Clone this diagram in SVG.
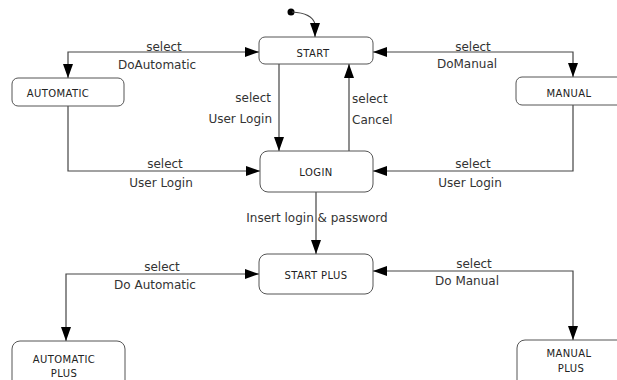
<svg xmlns="http://www.w3.org/2000/svg" width="617" height="380" viewBox="0 0 617 380">
<defs>
<marker id="ah" viewBox="0 0 14 10" refX="14" refY="5" markerWidth="14" markerHeight="10" markerUnits="userSpaceOnUse" orient="auto-start-reverse">
<path d="M0,0 L14,5 L0,10 Z" fill="#000"/>
</marker>
</defs>
<style>
.box{fill:#fff;stroke:#555;stroke-width:1}
.nt{font-family:"DejaVu Sans",sans-serif;font-size:10px;letter-spacing:0.4px;fill:#222;text-anchor:middle}
.lb{font-family:"DejaVu Sans",sans-serif;font-size:12px;fill:#333}
.ce{fill:none;stroke:#444;stroke-width:1.2;marker-end:url(#ah)}
.cb{fill:none;stroke:#444;stroke-width:1.2;marker-end:url(#ah);marker-start:url(#ah)}
</style>
<rect width="617" height="380" fill="#fff"/>
<g id="connectors">
<circle cx="291" cy="12" r="3.5" fill="#000"/>
<path class="ce" d="M292,12 Q312,13 315,24 L315,37"/>
<path class="cb" d="M259,52 L68,52 L68,78"/>
<path class="cb" d="M373,52 L573,52 L573,77"/>
<path class="ce" d="M279,64 L279,151"/>
<path class="ce" d="M349,151 L349,64"/>
<path class="ce" d="M68,106 L68,171 L260,171"/>
<path class="ce" d="M573,105 L573,171 L373,171"/>
<path class="ce" d="M316,192 L316,254"/>
<path class="cb" d="M259,274 L66,274 L66,341"/>
<path class="cb" d="M373,271 L573,271 L573,340"/>
<text class="lb" x="164" y="51" text-anchor="middle">select</text>
<text class="lb" x="157" y="69" text-anchor="middle">DoAutomatic</text>
<text class="lb" x="473" y="51" text-anchor="middle">select</text>
<text class="lb" x="467" y="68" text-anchor="middle">DoManual</text>
<text class="lb" x="271" y="102" text-anchor="end">select</text>
<text class="lb" x="272" y="123" text-anchor="end">User Login</text>
<text class="lb" x="352" y="103">select</text>
<text class="lb" x="352" y="124">Cancel</text>
<text class="lb" x="165" y="168" text-anchor="middle">select</text>
<text class="lb" x="161" y="187" text-anchor="middle">User Login</text>
<text class="lb" x="473" y="168" text-anchor="middle">select</text>
<text class="lb" x="470" y="187" text-anchor="middle">User Login</text>
<text class="lb" x="317" y="222" text-anchor="middle">Insert login &amp; password</text>
<text class="lb" x="162" y="271" text-anchor="middle">select</text>
<text class="lb" x="155" y="289" text-anchor="middle">Do Automatic</text>
<text class="lb" x="474" y="268" text-anchor="middle">select</text>
<text class="lb" x="467" y="285" text-anchor="middle">Do Manual</text>
</g>
<g id="start"><rect class="box" x="259" y="37" width="114" height="27" rx="6"/><text class="nt" x="313" y="57">START</text></g>
<g id="automatic"><rect class="box" x="12" y="78" width="112" height="28" rx="6"/><text class="nt" x="58" y="97">AUTOMATIC</text></g>
<g id="manual"><rect class="box" x="516" y="77" width="108" height="28" rx="6"/><text class="nt" x="569" y="97">MANUAL</text></g>
<g id="login"><rect class="box" x="260" y="151" width="113" height="41" rx="8"/><text class="nt" x="316" y="176">LOGIN</text></g>
<g id="startplus"><rect class="box" x="259" y="254" width="114" height="40" rx="8"/><text class="nt" x="316" y="279">START PLUS</text></g>
<g id="automaticplus"><rect class="box" x="12" y="341" width="113" height="50" rx="8"/><text class="nt" x="64" y="363">AUTOMATIC</text><text class="nt" x="64" y="377" font-size="8">PLUS</text></g>
<g id="manualplus"><rect class="box" x="517" y="340" width="110" height="50" rx="8"/><text class="nt" x="569" y="357">MANUAL</text><text class="nt" x="571" y="372" font-size="8">PLUS</text></g>
</svg>
